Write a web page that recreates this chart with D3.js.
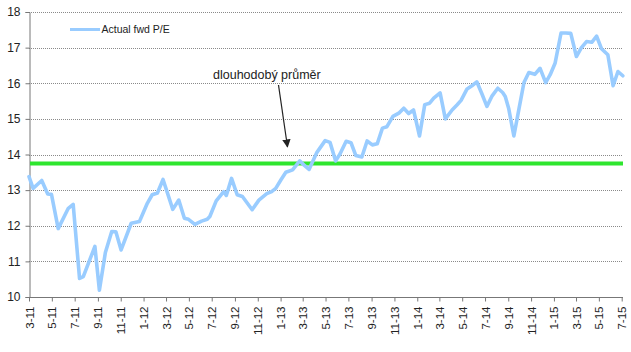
<!DOCTYPE html>
<html>
<head>
<meta charset="utf-8">
<script src="https://cdn.jsdelivr.net/npm/d3@7/dist/d3.min.js"></script>
<style>
  html, body { margin: 0; padding: 0; background: #fff; }
  svg { display: block; font-family: "Liberation Sans", Arial, sans-serif; }
</style>
</head>
<body>
<svg id="chart" width="631" height="352"></svg>
<script>
const dates = [
  "2011-03-01","2011-03-12","2011-04-04","2011-04-20","2011-04-30","2011-05-18","2011-06-14","2011-06-27",
  "2011-07-14","2011-07-24","2011-08-24","2011-09-05","2011-09-21","2011-10-08","2011-10-19","2011-11-02",
  "2011-11-29","2011-12-21","2012-01-11","2012-01-24","2012-02-07","2012-02-22","2012-03-19","2012-04-04",
  "2012-04-19","2012-04-30","2012-05-17","2012-06-04","2012-06-19","2012-06-26","2012-07-13","2012-08-02",
  "2012-08-09","2012-08-23","2012-09-07","2012-09-21","2012-10-17","2012-11-04","2012-11-25","2012-12-08",
  "2012-12-19","2013-01-02","2013-01-15","2013-02-02","2013-02-21","2013-03-04","2013-03-18","2013-04-08",
  "2013-04-30","2013-05-13","2013-05-28","2013-06-09","2013-06-25","2013-07-08","2013-07-21","2013-08-06",
  "2013-08-20","2013-09-03","2013-09-16","2013-09-30","2013-10-12","2013-10-28","2013-11-14","2013-11-26",
  "2013-12-09","2013-12-22","2014-01-07","2014-01-21","2014-02-03","2014-02-14","2014-03-03","2014-03-17",
  "2014-04-04","2014-04-17","2014-04-28","2014-05-14","2014-05-27","2014-06-09","2014-06-22","2014-07-06",
  "2014-07-19","2014-08-04","2014-08-17","2014-08-24","2014-09-02","2014-09-16","2014-09-30","2014-10-13",
  "2014-10-26","2014-11-11","2014-11-25","2014-12-10","2014-12-22","2015-01-04","2015-01-20","2015-02-02",
  "2015-02-15","2015-03-02","2015-03-15","2015-03-29","2015-04-12","2015-04-25","2015-05-08","2015-05-25",
  "2015-06-08","2015-06-21","2015-07-04"
];
const peValues = [
  13.38,13.05,13.27,12.89,12.88,11.92,12.49,12.60,
  10.52,10.57,11.42,10.19,11.25,11.84,11.83,11.32,
  12.07,12.12,12.63,12.87,12.92,13.30,12.46,12.72,
  12.21,12.18,12.04,12.13,12.18,12.26,12.70,12.96,
  12.85,13.33,12.87,12.82,12.45,12.72,12.90,12.96,
  13.05,13.29,13.50,13.57,13.82,13.71,13.58,14.06,
  14.39,14.34,13.82,14.02,14.37,14.33,13.97,13.93,
  14.38,14.27,14.30,14.74,14.78,15.07,15.17,15.30,
  15.15,15.25,14.52,15.40,15.44,15.58,15.73,15.00,
  15.25,15.39,15.52,15.84,15.93,16.04,15.72,15.35,
  15.63,15.86,15.74,15.63,15.30,14.52,15.30,16.02,
  16.30,16.25,16.42,16.02,16.24,16.56,17.41,17.41,
  17.40,16.75,16.99,17.17,17.15,17.32,16.97,16.80,
  15.93,16.33,16.21
];
const tickLabels = ["3-11","5-11","7-11","9-11","11-11","1-12","3-12","5-12","7-12","9-12","11-12",
  "1-13","3-13","5-13","7-13","9-13","11-13","1-14","3-14","5-14","7-14","9-14","11-14",
  "1-15","3-15","5-15","7-15"];
const yTicks = [10, 11, 12, 13, 14, 15, 16, 17, 18];
const longTermAvg = 13.75;
const seriesName = "Actual fwd P/E";
const annotationText = "dlouhodobý průměr";

(function () {
const parseDate = d3.timeParse("%Y-%m-%d");
const labelToDate = s => { const [m, yy] = s.split("-").map(Number); return new Date(2000 + yy, m - 1, 1); };
const data = dates.map((d, i) => ({ date: parseDate(d), value: peValues[i] }));
const tickDates = tickLabels.map(labelToDate);

const svg = d3.select("#chart");
const pLeft = 29, pRight = 621.7, pTop = 12, pBottom = 297, gridEnd = 623;

const x = d3.scaleTime().domain([tickDates[0], tickDates[tickDates.length - 1]]).range([pLeft, pRight]);
const y = d3.scaleLinear().domain([10, 18]).range([pBottom, pTop]);

// gridlines
svg.append("g").selectAll("line").data(yTicks.filter(t => t > 10)).join("line")
  .attr("x1", pLeft).attr("x2", gridEnd)
  .attr("y1", d => Math.round(y(d)) + 0.5).attr("y2", d => Math.round(y(d)) + 0.5)
  .attr("stroke", "#8a8a8a").attr("stroke-width", 1).attr("stroke-dasharray", "1,1");

// y axis
const yAxis = svg.append("g").attr("transform", `translate(${pLeft + 0.5},0)`)
  .call(d3.axisLeft(y).tickValues(yTicks).tickFormat(d3.format("d")).tickSize(4).tickPadding(5));
yAxis.select(".domain").attr("stroke", "#777");
yAxis.selectAll(".tick line").attr("stroke", "#777");
yAxis.selectAll("text").attr("font-size", 12).attr("fill", "#222")
  .attr("font-family", "'Liberation Sans', Arial, sans-serif");

// x axis
const xAxis = svg.append("g").attr("transform", `translate(0,${pBottom + 0.5})`)
  .call(d3.axisBottom(x).tickValues(tickDates).tickFormat((d, i) => tickLabels[i]).tickSize(4).tickSizeOuter(0));
xAxis.select(".domain").attr("stroke", "#777").attr("d", `M${pLeft},0H${gridEnd}`);
xAxis.selectAll(".tick line").attr("stroke", "#777");
xAxis.selectAll("text")
  .attr("font-size", 11.5).attr("fill", "#222")
  .attr("font-family", "'Liberation Sans', Arial, sans-serif")
  .attr("transform", "rotate(-90)")
  .attr("text-anchor", "end")
  .attr("x", -9).attr("y", 0).attr("dy", "0.35em");

// long-term average line
svg.append("line")
  .attr("x1", pLeft + 1).attr("x2", gridEnd)
  .attr("y1", y(longTermAvg)).attr("y2", y(longTermAvg))
  .attr("stroke", "#2ee62e").attr("stroke-width", 4);

// series line
const line = d3.line().x(d => x(d.date)).y(d => y(d.value));
svg.append("path").datum(data)
  .attr("d", line)
  .attr("fill", "none")
  .attr("stroke", "#99ccff")
  .attr("stroke-width", 3.6)
  .attr("stroke-linejoin", "round")
  .attr("stroke-linecap", "round");

// legend
svg.append("line").attr("x1", 70).attr("x2", 100).attr("y1", 29.5).attr("y2", 29.5)
  .attr("stroke", "#99ccff").attr("stroke-width", 3);
svg.append("text").attr("x", 101.5).attr("y", 29.5).attr("dy", "0.35em")
  .attr("font-size", 10.5).attr("fill", "#222").text(seriesName);

// annotation with arrow
const defs = svg.append("defs");
defs.append("marker").attr("id", "arrow").attr("viewBox", "0 0 10 10")
  .attr("refX", 9).attr("refY", 5).attr("markerWidth", 7).attr("markerHeight", 7)
  .attr("orient", "auto")
  .append("path").attr("d", "M0,0L10,5L0,10z").attr("fill", "#222");
svg.append("text").attr("x", 213).attr("y", 79)
  .attr("font-size", 12.5).attr("fill", "#222").text(annotationText);
svg.append("line")
  .attr("x1", 278.5).attr("y1", 85)
  .attr("x2", 287.5).attr("y2", 147)
  .attr("stroke", "#222").attr("stroke-width", 1.2)
  .attr("marker-end", "url(#arrow)");
})();
</script>
</body>
</html>
